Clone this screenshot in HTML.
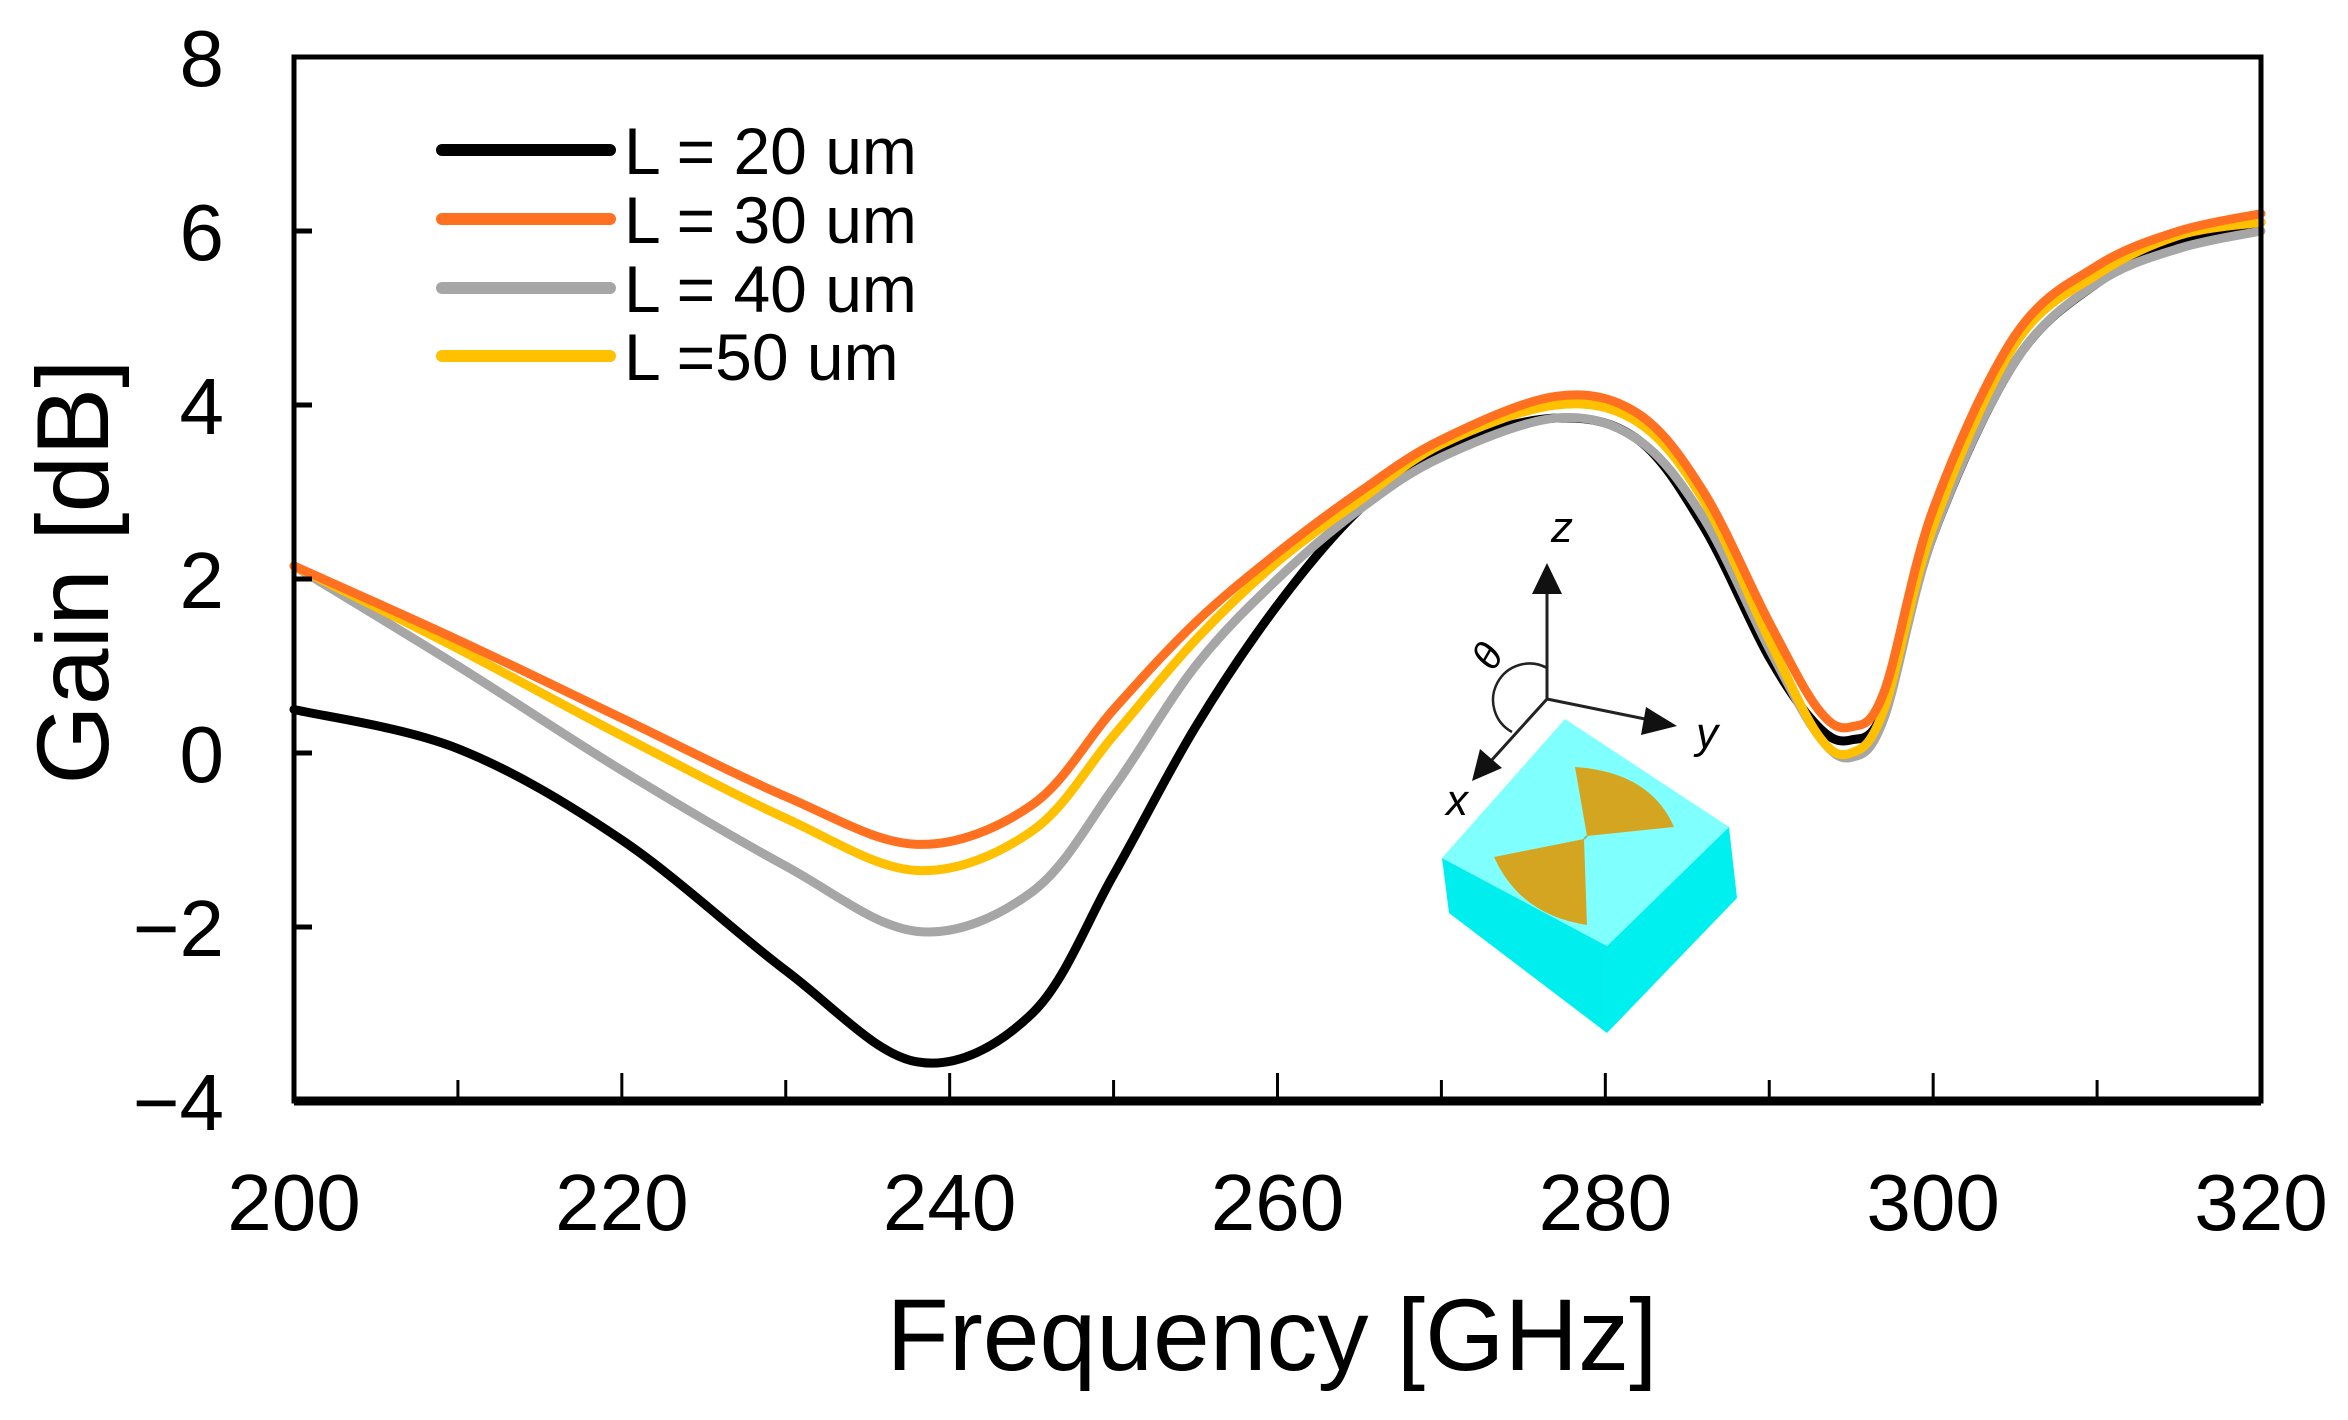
<!DOCTYPE html>
<html><head><meta charset="utf-8"><style>
html,body{margin:0;padding:0;background:#fff;}
svg{display:block;font-family:"Liberation Sans",Arial,sans-serif;}
</style></head><body>
<svg id="chart" width="2348" height="1420" viewBox="0 0 2348 1420" xmlns="http://www.w3.org/2000/svg">
<g id="marks"></g>
<g id="axes"></g>
<g id="legend"></g>
<g id="inset">
  <polygon points="1442,858 1607,946 1607,1033 1449,913" fill="#00eeee"/>
  <polygon points="1607,946 1729,827 1737,898 1607,1033" fill="#00f0f0"/>
  <polygon points="1442,858 1565,719 1729,827 1607,946" fill="#80ffff"/>
  <path d="M1587,836 L1575,767 Q1650,772 1674,827 Z" fill="#d4a520"/>
  <path d="M1584,839 L1494,857 Q1520,915 1587,925 Z" fill="#d4a520"/>
  <line x1="1584" y1="839" x2="1587" y2="836" stroke="#a0b080" stroke-width="2"/>
  <g stroke="#222" stroke-width="3" fill="#111">
    <line x1="1547" y1="699" x2="1547" y2="592"/>
    <polygon points="1547,563 1532,594 1562,594" stroke="none"/>
    <line x1="1547" y1="699" x2="1650" y2="720"/>
    <polygon points="1677,726 1646,707 1641,735" stroke="none"/>
    <line x1="1547" y1="699" x2="1490" y2="762"/>
    <polygon points="1472,781 1480,749 1502,768" stroke="none"/>
    <path d="M1547,668 A30,30 0 0 0 1512,732" fill="none" stroke-width="2.5"/>
  </g>
  <text x="1562" y="542" font-size="44" font-style="italic" text-anchor="middle">z</text>
  <text x="1707" y="748" font-size="44" font-style="italic" text-anchor="middle">y</text>
  <text x="1457" y="815" font-size="44" font-style="italic" text-anchor="middle">x</text>
  <text x="1487" y="670" font-size="40" font-style="italic" text-anchor="middle" transform="rotate(-60 1487 656)">θ</text>
</g>
</svg>
<script>
const freqs = [200,210,220,230,238,245,250,255,260,265,270,277,282,286,290,293,295,297,300,305,310,315,320];
const gainL20 = [0.5,0.05,-1.0,-2.5,-3.55,-3.0,-1.4,0.3,1.7,2.8,3.5,3.85,3.6,2.6,1.1,0.3,0.15,0.5,2.5,4.5,5.4,5.85,6.1];
const gainL30 = [2.15,1.3,0.4,-0.5,-1.05,-0.6,0.5,1.5,2.3,3.0,3.6,4.1,3.9,3.0,1.5,0.5,0.3,0.7,2.8,4.8,5.6,6.0,6.2];
const gainL40 = [2.15,1.0,-0.2,-1.3,-2.05,-1.6,-0.4,1.0,2.0,2.8,3.4,3.85,3.6,2.7,1.2,0.2,-0.05,0.4,2.5,4.5,5.4,5.8,6.0];
const gainL50 = [2.15,1.2,0.2,-0.75,-1.35,-0.9,0.2,1.3,2.2,2.9,3.55,4.0,3.8,2.9,1.3,0.2,0.0,0.5,2.6,4.7,5.5,5.95,6.1];
const seriesNames = ["L = 20 um","L = 30 um","L = 40 um","L =50 um"];
const seriesColors = ["#000000","#ff7020","#a6a6a6","#ffc000"];
const xTicks = [200,220,240,260,280,300,320];
const yTicks = [-4,-2,0,2,4,6,8];

const NS="http://www.w3.org/2000/svg";
const L=294,R=2261,T=57,B=1101;
const xMin=200,xMax=320,yMin=-4,yMax=8;
const sx=v=>L+(v-xMin)/(xMax-xMin)*(R-L);
const sy=v=>B-(v-yMin)/(yMax-yMin)*(B-T);
function mk(tag,attrs,parent){const e=document.createElementNS(NS,tag);for(const k in attrs)e.setAttribute(k,attrs[k]);parent.appendChild(e);return e;}
function smooth(pts){let d=`M${pts[0][0]},${pts[0][1]}`;for(let i=0;i<pts.length-1;i++){const p0=pts[Math.max(i-1,0)],p1=pts[i],p2=pts[i+1],p3=pts[Math.min(i+2,pts.length-1)];const c1=[p1[0]+(p2[0]-p0[0])/6,p1[1]+(p2[1]-p0[1])/6];const c2=[p2[0]-(p3[0]-p1[0])/6,p2[1]-(p3[1]-p1[1])/6];d+=` C${c1[0]},${c1[1]} ${c2[0]},${c2[1]} ${p2[0]},${p2[1]}`;}return d;}

const marks=document.getElementById('marks');
const order=[0,2,3,1];
order.forEach(i=>{
  const data=[gainL20,gainL30,gainL40,gainL50][i];
  const p=mk('path',{d:smooth(freqs.map((f,j)=>[sx(f),sy(data[j])])),fill:'none',stroke:seriesColors[i],'stroke-width':9,'stroke-linejoin':'round','stroke-linecap':'round'},marks);
  
  
});

const axes=document.getElementById('axes');
const frame=mk('rect',{x:L,y:T,width:R-L,height:B-T,fill:'none',stroke:'#000','stroke-width':5},axes);


const xa=mk('line',{x1:L,y1:B,x2:R,y2:B,stroke:'#000','stroke-width':9},axes);


for(let v=200;v<=320;v+=10){
  const major=(v%20===0);
  const t=mk('line',{x1:sx(v),y1:B,x2:sx(v),y2:B-(major?28:21),stroke:'#000','stroke-width':3},axes);
  
  
}
xTicks.forEach(v=>{
  const t=mk('text',{x:sx(v),y:1230,'font-size':80,'text-anchor':'middle'},axes);t.textContent=v;
  
  
});
yTicks.forEach(v=>{
  if(v>yMin&&v<yMax){const tk=mk('line',{x1:L,y1:sy(v),x2:L+18,y2:sy(v),stroke:'#000','stroke-width':5},axes);
  
  }
  const t=mk('text',{x:224,y:sy(v)+29,'font-size':80,'text-anchor':'end'},axes);t.textContent=(v<0?'\u2212':'')+Math.abs(v);
  
  
});
const xt=mk('text',{x:1272,y:1370,'font-size':102,'text-anchor':'middle'},axes);xt.textContent='Frequency [GHz]';


const yt=mk('text',{x:108,y:572,'font-size':102,'text-anchor':'middle',transform:'rotate(-90 108 572)'},axes);yt.textContent='Gain [dB]';



const legend=document.getElementById('legend');
const ly=[150,219,288,356];
seriesNames.forEach((n,i)=>{
  const g=mk('g',{},legend);
  
  
  mk('line',{x1:442,y1:ly[i],x2:610,y2:ly[i],stroke:seriesColors[i],'stroke-width':12,'stroke-linecap':'round'},g);
  const t=mk('text',{x:624,y:ly[i]+24,'font-size':66},g);t.textContent=n;
});
</script>
</body></html>
